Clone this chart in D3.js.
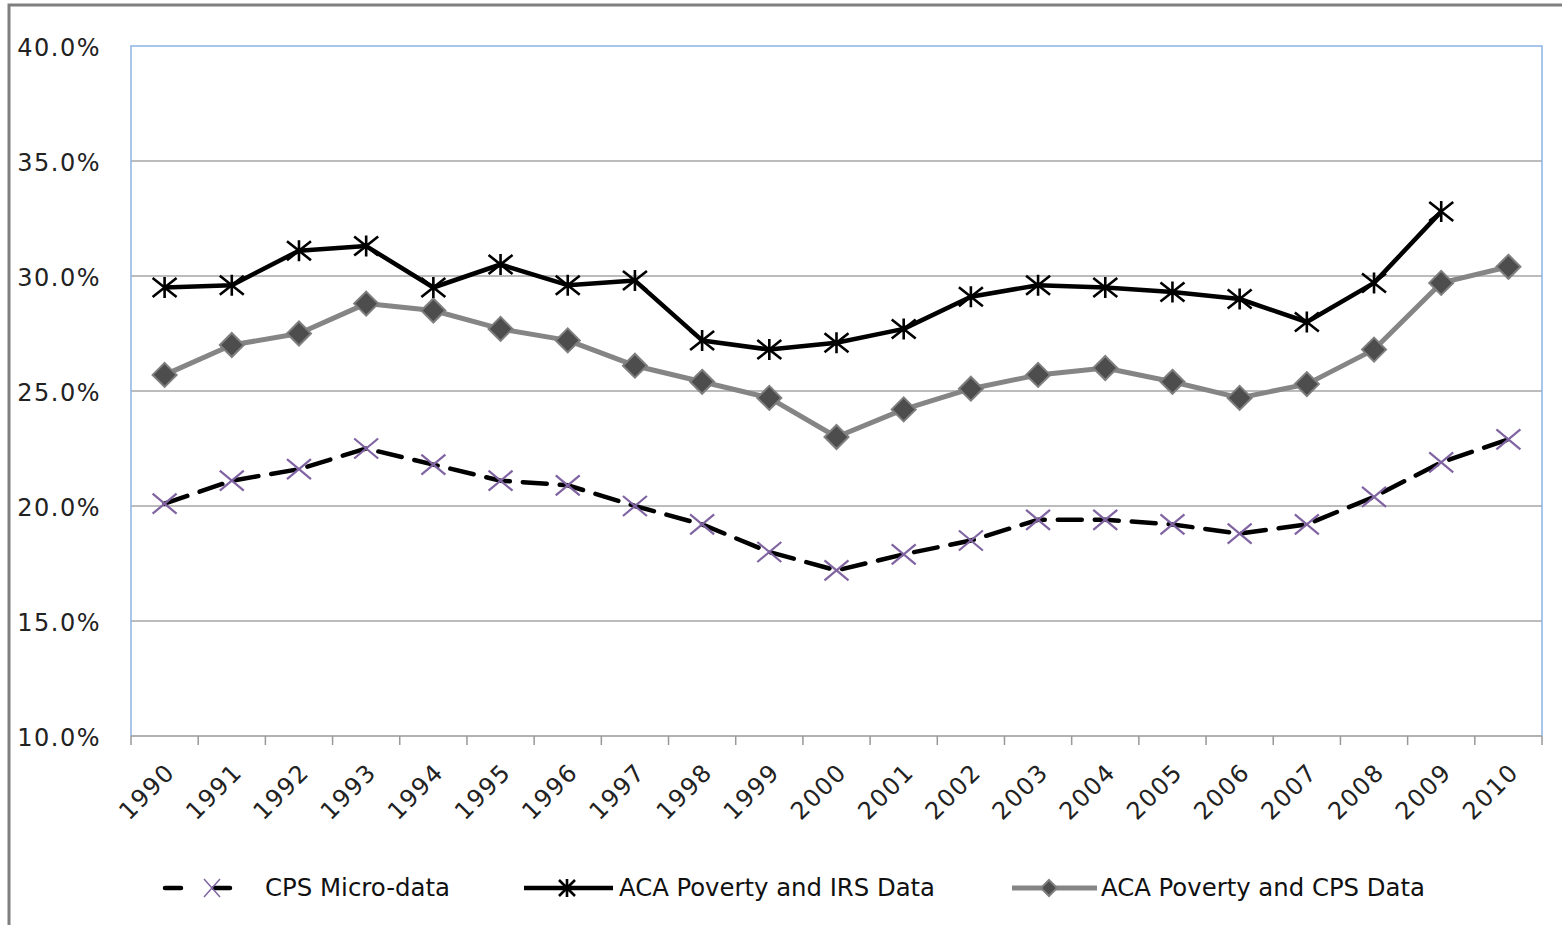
<!DOCTYPE html>
<html>
<head>
<meta charset="utf-8">
<script src="https://cdn.jsdelivr.net/npm/d3@7"></script>
<style>
  html, body { margin: 0; padding: 0; background: #fff; }
  svg { display: block; }
</style>
</head>
<body>
<svg id="chart" width="1562" height="925"></svg>
<script>
// Share of population below threshold, by data source, 1990-2010
const years = ["1990","1991","1992","1993","1994","1995","1996","1997","1998","1999","2000",
               "2001","2002","2003","2004","2005","2006","2007","2008","2009","2010"];

const cpsMicro = [20.1, 21.1, 21.6, 22.5, 21.8, 21.1, 20.9, 20.0, 19.2, 18.0, 17.2,
                  17.9, 18.5, 19.4, 19.4, 19.2, 18.8, 19.2, 20.4, 21.9, 22.9];

const acaIrs = [29.5, 29.6, 31.1, 31.3, 29.5, 30.5, 29.6, 29.8, 27.2, 26.8, 27.1,
                27.7, 29.1, 29.6, 29.5, 29.3, 29.0, 28.0, 29.7, 32.8, null];

const acaCps = [25.7, 27.0, 27.5, 28.8, 28.5, 27.7, 27.2, 26.1, 25.4, 24.7, 23.0,
                24.2, 25.1, 25.7, 26.0, 25.4, 24.7, 25.3, 26.8, 29.7, 30.4];

const yTicks = [10, 15, 20, 25, 30, 35, 40];

const seriesNames = ["CPS Micro-data", "ACA Poverty and IRS Data", "ACA Poverty and CPS Data"];

const svg = d3.select("#chart");

// outer frame
svg.append("rect")
  .attr("x", 9).attr("y", 5)
  .attr("width", 1600).attr("height", 1000)
  .attr("fill", "none").attr("stroke", "#7f7f7f").attr("stroke-width", 3);

const plot = { left: 131, right: 1542, top: 46, bottom: 736 };

const x = d3.scaleBand().domain(years).range([plot.left, plot.right]);
const y = d3.scaleLinear().domain([10, 40]).range([plot.bottom, plot.top]);
const cx = d => x(d) + x.bandwidth() / 2;

// horizontal gridlines
svg.append("g")
  .selectAll("line")
  .data(yTicks.filter(t => t > 10 && t < 40))
  .join("line")
  .attr("x1", plot.left).attr("x2", plot.right)
  .attr("y1", d => y(d)).attr("y2", d => y(d))
  .attr("stroke", "#a6a6a6").attr("stroke-width", 1.3);

// plot area border (left, top, right)
svg.append("path")
  .attr("d", `M${plot.left},${plot.bottom} V${plot.top} H${plot.right} V${plot.bottom}`)
  .attr("fill", "none").attr("stroke", "#8db3e2").attr("stroke-width", 1.5);

// y axis labels
const yAxis = d3.axisLeft(y).tickValues(yTicks)
  .tickFormat(d => d3.format(".1f")(d) + "%").tickSize(0).tickPadding(0);
const gy = svg.append("g").attr("transform", `translate(101,0)`).call(yAxis);
gy.select(".domain").remove();
gy.selectAll("text")
  .attr("font-family", "DejaVu Sans, Verdana, sans-serif")
  .attr("font-size", 24).attr("letter-spacing", 1.5)
  .attr("fill", "#222").attr("dy", "0.38em");

// x axis with ticks between categories
const gx = svg.append("g").attr("transform", `translate(0,${plot.bottom})`);
gx.append("line")
  .attr("x1", plot.left).attr("x2", plot.right)
  .attr("stroke", "#999").attr("stroke-width", 1.5);
const bounds = d3.range(years.length + 1).map(i => plot.left + i * x.bandwidth());
gx.selectAll("line.tick")
  .data(bounds)
  .join("line").attr("class", "tick")
  .attr("x1", d => d).attr("x2", d => d)
  .attr("y1", 0).attr("y2", 9)
  .attr("stroke", "#999").attr("stroke-width", 1.5);
gx.selectAll("text")
  .data(years)
  .join("text")
  .attr("transform", d => `translate(${cx(d) - 1},${25}) rotate(-45)`)
  .attr("text-anchor", "end")
  .attr("dy", "0.75em")
  .attr("font-family", "DejaVu Sans, Verdana, sans-serif")
  .attr("font-size", 24).attr("letter-spacing", 1.5)
  .attr("fill", "#222")
  .text(d => d);

// series lines
const line = d3.line()
  .defined(d => d.v != null)
  .x(d => cx(d.year))
  .y(d => y(d.v));
const toPts = arr => years.map((yr, i) => ({ year: yr, v: arr[i] }));

svg.append("path")
  .datum(toPts(acaCps))
  .attr("d", line)
  .attr("fill", "none").attr("stroke", "#858585").attr("stroke-width", 5)
  .attr("stroke-linejoin", "round");

svg.append("path")
  .datum(toPts(acaIrs))
  .attr("d", line)
  .attr("fill", "none").attr("stroke", "#000").attr("stroke-width", 4.5)
  .attr("stroke-linejoin", "round");

svg.append("path")
  .datum(toPts(cpsMicro))
  .attr("d", line)
  .attr("fill", "none").attr("stroke", "#000").attr("stroke-width", 4.5)
  .attr("stroke-dasharray", "24,13").attr("stroke-linecap", "round");

// marker shapes
function diamond(g, px, py, r) {
  g.append("path")
    .attr("d", `M${px},${py - r} L${px + r},${py} L${px},${py + r} L${px - r},${py} Z`)
    .attr("fill", "#4d4d4d").attr("stroke", "#7f7f7f").attr("stroke-width", 2);
}
function star(g, px, py, rx, ry) {
  g.append("path")
    .attr("d", `M${px - rx},${py - ry} L${px + rx},${py + ry} M${px - rx},${py + ry} L${px + rx},${py - ry} M${px},${py - ry - 1} L${px},${py + ry + 1}`)
    .attr("stroke", "#000").attr("stroke-width", 2.6).attr("fill", "none");
}
function cross(g, px, py, rx, ry, sw) {
  g.append("path")
    .attr("d", `M${px - rx},${py - ry} L${px + rx},${py + ry} M${px - rx},${py + ry} L${px + rx},${py - ry}`)
    .attr("stroke", "#8064a2").attr("stroke-width", sw).attr("fill", "none");
}

const mk = svg.append("g");
toPts(acaCps).forEach(d => { if (d.v != null) diamond(mk, cx(d.year), y(d.v), 12); });
toPts(acaIrs).forEach(d => { if (d.v != null) star(mk, cx(d.year), y(d.v), 12, 9.5); });
toPts(cpsMicro).forEach(d => { if (d.v != null) cross(mk, cx(d.year), y(d.v), 12, 10, 2.2); });

// legend
const lg = svg.append("g");
const ly = 888;
const legendFont = "Liberation Sans Narrow, Arial Narrow, DejaVu Sans Condensed, sans-serif";

lg.append("line").attr("x1", 165).attr("x2", 245).attr("y1", ly).attr("y2", ly)
  .attr("stroke", "#000").attr("stroke-width", 4.5)
  .attr("stroke-dasharray", "16,33").attr("stroke-linecap", "round");
cross(lg, 212, ly, 8, 9, 1.5);

lg.append("line").attr("x1", 524).attr("x2", 613).attr("y1", ly).attr("y2", ly)
  .attr("stroke", "#000").attr("stroke-width", 4.5);
star(lg, 567, ly, 8, 8);

lg.append("line").attr("x1", 1012).attr("x2", 1097).attr("y1", ly).attr("y2", ly)
  .attr("stroke", "#858585").attr("stroke-width", 5);
diamond(lg, 1049, ly, 8);

const legendText = [
  { x: 265, len: 185 },
  { x: 619, len: 316 },
  { x: 1101, len: 324 }
];
lg.selectAll("text.lbl")
  .data(seriesNames)
  .join("text").attr("class", "lbl")
  .attr("x", (d, i) => legendText[i].x)
  .attr("y", ly + 8)
  .attr("textLength", (d, i) => legendText[i].len)
  .attr("lengthAdjust", "spacingAndGlyphs")
  .attr("font-family", legendFont)
  .attr("font-size", 24)
  .attr("fill", "#111")
  .text(d => d);
</script>
</body>
</html>
